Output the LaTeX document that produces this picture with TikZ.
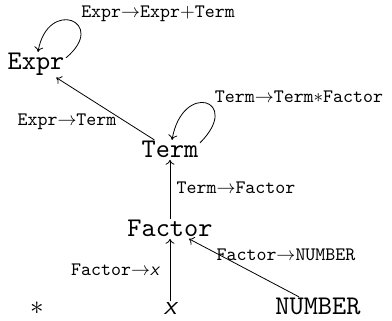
\documentclass[tikz,border=0pt]{standalone}
\usetikzlibrary{arrows.meta}
\newcommand{\varx}{{\sffamily\slshape x}}
\begin{document}
\begin{tikzpicture}[x=1pt,y=1pt,
  big/.style={font=\ttfamily, scale=2.7, inner sep=0.4pt, anchor=base},
  lbl/.style={font=\ttfamily, scale=1.9, inner sep=0pt, anchor=base},
  edge/.style={line width=0.8pt, -{To[length=5pt,width=9pt]}}]
\useasboundingbox (0,0) rectangle (392,321);
\node[big] (Expr) at (36,251) {Expr};
\node[big] (Term) at (170,163) {Term};
\node[big] (Factor) at (170,84) {Factor};
\node[big] (x) at (170,6) {\varx};
\node[big] (NUM) at (318,6) {NUMBER};
\node[big] (star) at (37,6) {$*$};
\node[lbl] (l1) at (158,303.5) {Expr$\to$Expr$+$Term};
\node[lbl] (l2) at (299,218.5) {Term$\to$Term$\ast$Factor};
\node[lbl] (l3) at (67,195) {Expr$\to$Term};
\node[lbl] (l4) at (236,127) {Term$\to$Factor};
\node[lbl] (l5) at (286,60) {Factor$\to$NUMBER};
\node[lbl] (l6) at (115,45) {Factor$\to$\varx};
\draw[edge] ([yshift=-6pt]Expr.north east) to[out=40,in=80,looseness=5] ([xshift=2pt]Expr.north);
\draw[edge] ([yshift=-3pt]Term.north east) to[out=45,in=80,looseness=5.5] ([xshift=2pt]Term.north);
\draw[edge] (Term) -- (Expr);
\draw[edge] (Factor.north) -- (Term.south);
\draw[edge] (x.north) -- (Factor.south);
\draw[edge] (NUM) -- (Factor);
\end{tikzpicture}
\end{document}
